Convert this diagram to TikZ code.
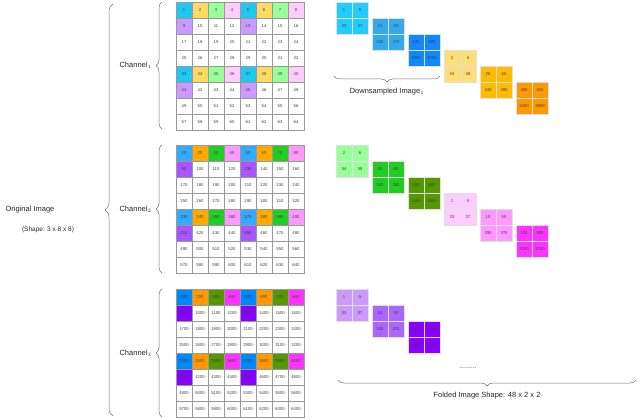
\documentclass[tikz,border=0pt]{standalone}
\usepackage{fontspec}
\setmainfont{Liberation Sans}
\usetikzlibrary{decorations.pathreplacing}
\definecolor{ch1-0}{HTML}{1EC8F0}\definecolor{ch1-1}{HTML}{FFD966}\definecolor{ch1-2}{HTML}{99FF99}\definecolor{ch1-3}{HTML}{FFCCFF}\definecolor{ch1-E}{HTML}{CC99FF}
\definecolor{ch2-0}{HTML}{33AAFF}\definecolor{ch2-1}{HTML}{FFAA00}\definecolor{ch2-2}{HTML}{22CC22}\definecolor{ch2-3}{HTML}{FF99FF}\definecolor{ch2-E}{HTML}{AA55FF}
\definecolor{ch3-0}{HTML}{0088FF}\definecolor{ch3-1}{HTML}{FF9900}\definecolor{ch3-2}{HTML}{559900}\definecolor{ch3-3}{HTML}{FF33FF}\definecolor{ch3-E}{HTML}{8800FF}
\definecolor{b1}{HTML}{22CCFF}\definecolor{b2}{HTML}{33AAEE}\definecolor{b3}{HTML}{1188FF}
\definecolor{y1}{HTML}{FFDD77}\definecolor{y2}{HTML}{FFBB00}\definecolor{y3}{HTML}{FF9900}
\definecolor{g1}{HTML}{99FF99}\definecolor{g2}{HTML}{22CC22}\definecolor{g3}{HTML}{559900}
\definecolor{p1}{HTML}{FFCCFF}\definecolor{p2}{HTML}{FF99FF}\definecolor{p3}{HTML}{FF33FF}
\definecolor{v1}{HTML}{CC99FF}\definecolor{v2}{HTML}{AA66FF}\definecolor{v3}{HTML}{8800FF}
\tikzset{
 cell/.style={draw=black!40,line width=0.6pt,minimum size=16pt,inner sep=0pt,font=\fontsize{4.2}{5}\selectfont,text=black!75},
 bcell/.style={draw=black!12,line width=0.8pt,minimum size=16pt,inner sep=0pt,font=\fontsize{4.2}{5}\selectfont,text=black!75},
 lbl/.style={font=\fontsize{7.5}{9}\selectfont,text=black!85},
 brc/.style={draw=black!55,line width=0.5pt,decorate,decoration={brace,amplitude=6pt}}
}
\newcommand\mygrid[3]{%
 \foreach \r in {0,...,7}{\foreach \c in {0,...,7}{%
  \pgfmathtruncatemacro\rr{mod(\r,4)}\pgfmathtruncatemacro\cq{mod(\c,4)}%
  \pgfmathtruncatemacro\val{(8*\r+\c+1)*#3}%
  \ifnum\rr=0 \edef\cl{ch#1-\cq}\else\ifnum\rr=1 \ifnum\cq=0 \edef\cl{ch#1-E}\else\def\cl{white}\fi\else\def\cl{white}\fi\fi
  \node[cell,fill=\cl] (g#1-\r-\c) at (184+16*\c,#2+8+16*\r) {\val};
 }}}
\newcommand\blk[8]{%
 \node[bcell,fill=#4] (#1a) at (#2+8,#3+8) {#5};
 \node[bcell,fill=#4] (#1b) at (#2+24,#3+8) {#6};
 \node[bcell,fill=#4] (#1c) at (#2+8,#3+24) {#7};
 \node[bcell,fill=#4] (#1d) at (#2+24,#3+24) {#8};}
\begin{document}
\begin{tikzpicture}[x=1pt,y=-1pt]
\useasboundingbox (0,0) rectangle (640,420);
\mygrid{1}{2}{1}
\mygrid{2}{145}{10}
\mygrid{3}{289}{100}
% channel 1 blocks
\blk{a1}{336}{2}{b1}{1}{5}{33}{37}
\blk{a2}{372}{18}{b2}{10}{50}{330}{370}
\blk{a3}{408}{34}{b3}{100}{500}{3300}{3700}
\blk{a4}{444}{50}{y1}{2}{6}{34}{38}
\blk{a5}{480}{66}{y2}{20}{60}{340}{380}
\blk{a6}{516}{82}{y3}{200}{600}{3400}{3800}
% channel 2 blocks
\blk{b1}{336}{145}{g1}{2}{6}{34}{38}
\blk{b2}{372}{161}{g2}{20}{60}{340}{380}
\blk{b3}{408}{177}{g3}{200}{600}{3400}{3800}
\blk{b4}{444}{193}{p1}{1}{5}{33}{37}
\blk{b5}{480}{209}{p2}{10}{50}{330}{370}
\blk{b6}{516}{225}{p3}{100}{500}{3300}{3700}
% channel 3 blocks
\blk{c1}{336}{289}{v1}{1}{5}{33}{37}
\blk{c2}{372}{305}{v2}{10}{50}{330}{370}
\blk{c3}{408}{321}{v3}{100}{500}{3300}{3700}
\node[font=\fontsize{7}{8}\selectfont,text=black!70] (dots) at (468,368) {.........};
% braces
\coordinate (ds1) at (440,76); \coordinate (ds2) at (334,76);
\draw[brc] (ds1) -- (ds2) node[midway,below=8pt,lbl] (dsl) {Downsampled Image$_1$};
\coordinate (fo1) at (636,380); \coordinate (fo2) at (338,380);
\draw[brc] (fo1) -- (fo2) node[midway,below=8pt,lbl] (fol) {Folded Image Shape: 48 x 2 x 2};
\coordinate (c1b) at (162,129); \coordinate (c1t) at (162,2);
\draw[brc] (c1b) -- (c1t) node[midway,left=7pt,lbl] (ch1) {Channel$_1$};
\coordinate (c2b) at (162,273); \coordinate (c2t) at (162,145);
\draw[brc] (c2b) -- (c2t) node[midway,left=7pt,lbl] (ch2) {Channel$_2$};
\coordinate (c3b) at (162,417); \coordinate (c3t) at (162,289);
\draw[brc] (c3b) -- (c3t) node[midway,left=7pt,lbl] (ch3) {Channel$_3$};
\coordinate (ob) at (113,416); \coordinate (ot) at (113,4);
\draw[brc,decoration={brace,amplitude=8pt}] (ob) -- (ot);
\node[lbl] (orig) at (30,210) {Original Image};
\node[lbl,font=\fontsize{6.5}{8}\selectfont] (shape) at (48,230) {(Shape: 3 x 8 x 8)};
\end{tikzpicture}
\end{document}
